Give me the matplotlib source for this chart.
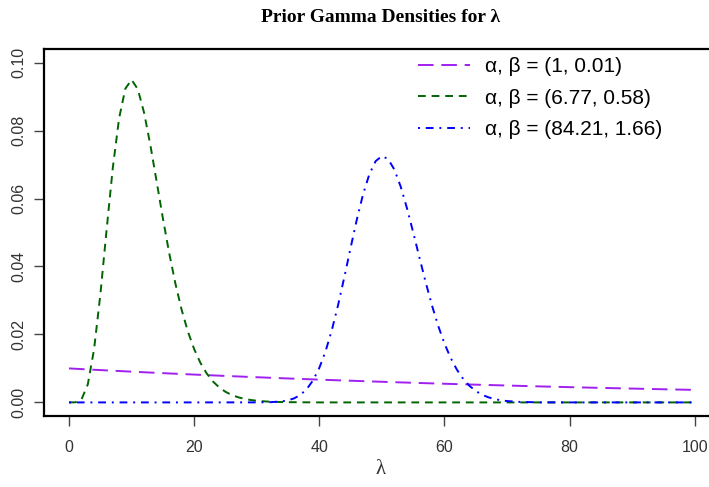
import numpy as np
import matplotlib
matplotlib.use("Agg")
import matplotlib.pyplot as plt

# values
x_purple = [0, 5, 10, 15, 20, 25, 30, 35, 40, 45, 50, 55, 60, 65, 70, 75, 80, 85, 90, 95, 100]
y_purple = [0.01000, 0.00951, 0.00905, 0.00861, 0.00819, 0.00779, 0.00741, 0.00705,
            0.00670, 0.00638, 0.00607, 0.00577, 0.00549, 0.00522, 0.00497, 0.00472,
            0.00449, 0.00427, 0.00407, 0.00387, 0.00368]

x_green = list(range(0, 36)) + [40, 50, 60, 70, 80, 90, 100]
y_green = [0.0, 0.00003, 0.00091, 0.00529, 0.01559, 0.03163, 0.05069, 0.06908,
           0.08358, 0.09234, 0.09495, 0.09214, 0.08523, 0.07573, 0.06503, 0.05421,
           0.04404, 0.03499, 0.02725, 0.02084, 0.01569, 0.01164, 0.00853, 0.00617,
           0.00442, 0.00313, 0.00220, 0.00153, 0.00106, 0.00072, 0.00049, 0.00033,
           0.00022, 0.00015, 0.00010, 0.00007, 0.0, 0.0, 0.0, 0.0, 0.0, 0.0, 0.0]

x_blue = [0, 10, 20, 30, 32, 34] + list(range(35, 71)) + [72, 75, 80, 90, 100]
y_blue = [0.0, 0.0, 0.0, 0.00001, 0.00005, 0.00029,
          0.00061, 0.00121, 0.00225, 0.00393, 0.00648, 0.01013, 0.01503, 0.02123,
          0.02861, 0.03684, 0.04545, 0.05381, 0.06126, 0.06714, 0.07098, 0.07250,
          0.07162, 0.06852, 0.06357, 0.05725, 0.05012, 0.04268, 0.03539, 0.02861,
          0.02256, 0.01737, 0.01307, 0.00961, 0.00692, 0.00488, 0.00337, 0.00228,
          0.00152, 0.00099, 0.00063, 0.00040,
          0.00015, 0.00002, 0.0, 0.0, 0.0]

labels = ["α, β = (1, 0.01)", "α, β = (6.77, 0.58)", "α, β = (84.21, 1.66)"]
xticks = [0, 20, 40, 60, 80, 100]
yticks = [0.00, 0.02, 0.04, 0.06, 0.08, 0.10]

plt.rcParams['font.family'] = ['Liberation Sans', 'DejaVu Sans']

fig = plt.figure(figsize=(7.09, 4.87), dpi=100)
ax = fig.add_axes([44/709, 71/487, 675.7/709, 367/487])

ax.plot(x_purple, y_purple, color="#A020F0", lw=1.4, dashes=(8, 4), label=labels[0])
ax.plot(x_green, y_green, color="#006400", lw=1.4, dashes=(4, 3), label=labels[1])
ax.plot(x_blue, y_blue, color="#0000FF", lw=1.4, dashes=(1, 3, 4, 3), label=labels[2])

ax.set_xlim(-4, 104)
ax.set_ylim(-0.004, 0.104)
ax.set_xticks(xticks)
ax.set_xticklabels([str(t) for t in xticks])
ax.set_yticks(yticks)
ax.set_yticklabels(["%.2f" % t for t in yticks], rotation=90, va='center')
ax.tick_params(axis='x', length=7, width=1, color='#444444', pad=10,
               labelsize=11.5, labelcolor='#333333')
ax.tick_params(axis='y', length=7, width=1, color='#444444', pad=6,
               labelsize=11.5, labelcolor='#333333')
for s in ax.spines.values():
    s.set_linewidth(1.6)

fig.text(381/709, 1 - 17/487, "Prior Gamma Densities for λ", ha='center', va='center',
         fontsize=14, fontweight='bold', family='Liberation Serif')
fig.text(381/709, 1 - 470/487, "λ", ha='center', va='center',
         fontsize=15, family='Liberation Serif', color='#333333')

ax.legend(loc='upper left', bbox_to_anchor=(418/709, 1 - 57/487),
          bbox_transform=fig.transFigure, frameon=False, fontsize=15,
          handlelength=2.5, handletextpad=0.7, labelspacing=0.6,
          borderaxespad=0, borderpad=0)

fig.savefig("out.png", dpi=100)
